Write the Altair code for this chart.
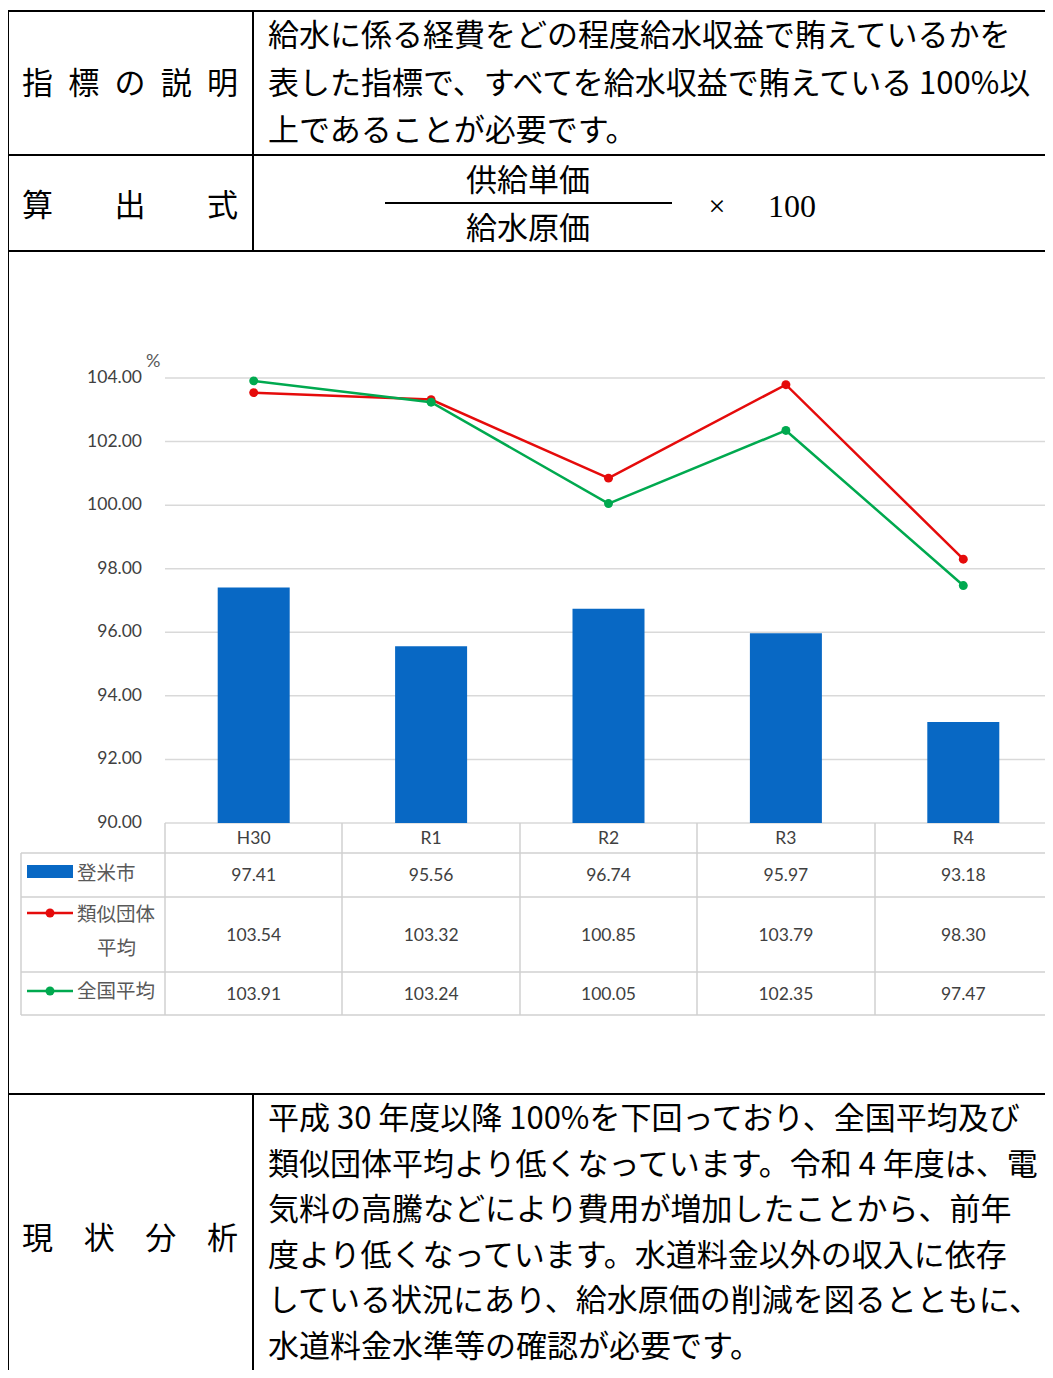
import altair as alt
import pandas as pd

# ---------------- data ----------------
categories = ["H30", "R1", "R2", "R3", "R4"]
tome = [97.41, 95.56, 96.74, 95.97, 93.18]          # 登米市
ruiji = [103.54, 103.32, 100.85, 103.79, 98.30]     # 類似団体平均
zenkoku = [103.91, 103.24, 100.05, 102.35, 97.47]   # 全国平均
y_ticks = [90, 92, 94, 96, 98, 100, 102, 104]

row_label_desc = "指標の説明"
row_label_formula = "算出式"
row_label_analysis = "現状分析"
desc_lines = [
    "給水に係る経費をどの程度給水収益で賄えているかを",
    "表した指標で、すべてを給水収益で賄えている 100%以",
    "上であることが必要です。",
]
formula_num = "供給単価"
formula_den = "給水原価"
formula_times = "×"
formula_factor = "100"
analysis_lines = [
    "平成 30 年度以降 100%を下回っており、全国平均及び",
    "類似団体平均より低くなっています。令和 4 年度は、電",
    "気料の高騰などにより費用が増加したことから、前年",
    "度より低くなっています。水道料金以外の収入に依存",
    "している状況にあり、給水原価の削減を図るとともに、",
    "水道料金水準等の確認が必要です。",
]
legend_tome = "登米市"
legend_ruiji_1 = "類似団体"
legend_ruiji_2 = "平均"
legend_zenkoku = "全国平均"
unit_label = "%"

# ---------------- styles ----------------
JP = "Noto Sans CJK JP"
NUM = "Lato"
SERIF = "Liberation Serif"
BLUE = "#0868c4"
RED = "#e50b0b"
GREEN = "#00a94f"
GRID = "#d9d9d9"
TXT = "#404040"
BODY = 31

OX, OY = 8, 8


def X(v):
    return v - OX


def Y(v):
    return v - OY


one = pd.DataFrame({"d": [0]})


def hline(x1, x2, y, color="black", w=2):
    return alt.Chart(one).mark_rule(color=color, strokeWidth=w).encode(
        x=alt.value(X(x1)), x2=alt.value(X(x2)), y=alt.value(Y(y)))


def vline(x, y1, y2, color="black", w=2):
    return alt.Chart(one).mark_rule(color=color, strokeWidth=w).encode(
        x=alt.value(X(x)), y=alt.value(Y(y1)), y2=alt.value(Y(y2)))


def T(s, x, y, size=BODY, align="left", font=JP, color="black"):
    return alt.Chart(one).mark_text(
        text=s, align=align, baseline="middle", fontSize=size, font=font, color=color
    ).encode(x=alt.value(X(x)), y=alt.value(Y(y)))


def spaced(s, x0, x1, y, size=BODY):
    n = len(s)
    step = (x1 - x0 - size) / (n - 1)
    return [T(c, x0 + size / 2 + i * step, y, size=size, align="center") for i, c in enumerate(s)]


df = pd.DataFrame({"cat": categories, "idx": list(range(len(categories))),
                   "tome": tome, "ruiji": ruiji, "zenkoku": zenkoku})
ticks_df = pd.DataFrame({"v": y_ticks})

xs = alt.Scale(type="band", domain=categories, range=[X(165), X(1052)],
               paddingInner=0, paddingOuter=0)
ys = alt.Scale(domain=[90, 104], range=[Y(823), Y(378)], zero=False, nice=False)
xenc = alt.X("cat:N", scale=xs, axis=None, sort=categories)

layers = []

# gridlines + y tick labels
layers.append(alt.Chart(ticks_df).mark_rule(color=GRID, strokeWidth=1.5).encode(
    y=alt.Y("v:Q", scale=ys, axis=None), x=alt.value(X(165)), x2=alt.value(X(1053))))
layers.append(alt.Chart(ticks_df).mark_text(
    align="right", baseline="middle", fontSize=17.5, font=NUM, color=TXT).encode(
    y=alt.Y("v:Q", scale=ys, axis=None), x=alt.value(X(142)),
    text=alt.Text("v:Q", format=".2f")))
layers.append(T(unit_label, 146, 362, size=18, font=NUM, color="#595959"))

# bars
layers.append(alt.Chart(df).mark_bar(size=72, color=BLUE).encode(
    x=xenc, y=alt.Y("tome:Q", scale=ys, axis=None), y2=alt.datum(90)))

# lines with markers
for field, col in [("ruiji", RED), ("zenkoku", GREEN)]:
    layers.append(alt.Chart(df).mark_line(color=col, strokeWidth=2.5).encode(
        x=xenc, y=alt.Y(f"{field}:Q", scale=ys, axis=None), order="idx:Q"))
    layers.append(alt.Chart(df).mark_circle(size=80, color=col, opacity=1).encode(
        x=xenc, y=alt.Y(f"{field}:Q", scale=ys, axis=None)))

# data table grid
TG = "#d0d0d0"
for xv in [165, 342, 520, 697, 875, 1052]:
    layers.append(vline(xv, 823, 1015, color=TG, w=1.5))
layers.append(vline(21, 853, 1015, color=TG, w=1.5))
for yv in [853, 897, 972, 1015]:
    layers.append(hline(21, 1052, yv, color=TG, w=1.5))

# header categories & values
layers.append(alt.Chart(df).mark_text(baseline="middle", fontSize=17.5, font=NUM, color=TXT).encode(
    x=xenc, y=alt.value(Y(839)), text="cat:N"))
for field, yv in [("tome", 876), ("ruiji", 936), ("zenkoku", 995)]:
    layers.append(alt.Chart(df).mark_text(baseline="middle", fontSize=17.5, font=NUM, color=TXT).encode(
        x=xenc, y=alt.value(Y(yv)), text=alt.Text(f"{field}:Q", format=".2f")))

# table legend keys
layers.append(alt.Chart(one).mark_rect(color=BLUE).encode(
    x=alt.value(X(27)), x2=alt.value(X(73)), y=alt.value(Y(865)), y2=alt.value(Y(878))))
for col, yv in [(RED, 913), (GREEN, 991)]:
    layers.append(hline(27, 73, yv, color=col, w=2.5))
    layers.append(alt.Chart(one).mark_circle(size=80, color=col, opacity=1).encode(
        x=alt.value(X(50)), y=alt.value(Y(yv))))
layers.append(T(legend_tome, 77, 874, size=19.5, color="#595959"))
layers.append(T(legend_ruiji_1, 77, 915, size=19.5, color="#595959"))
layers.append(T(legend_ruiji_2, 97, 949, size=19.5, color="#595959"))
layers.append(T(legend_zenkoku, 77, 992, size=19.5, color="#595959"))

# document frame
layers.append(hline(7, 1053, 11))
layers.append(vline(8, 10, 1378))
for yv in [155, 251, 1094]:
    layers.append(hline(7, 1053, yv))
layers.append(vline(253, 10, 251))
layers.append(vline(253, 1094, 1378))

# document texts
layers += spaced(row_label_desc, 22, 238, 85)
layers += spaced(row_label_formula, 22, 238, 207)
layers += spaced(row_label_analysis, 22, 238, 1240)
for i, s in enumerate(desc_lines):
    layers.append(T(s, 268, 37 + i * 47.5))
layers.append(T(formula_num, 528, 182, align="center"))
layers.append(hline(385, 672, 203, w=2))
layers.append(T(formula_den, 528, 230, align="center"))
layers.append(T(formula_times, 717, 207, size=30, align="center", font=SERIF))
layers.append(T(formula_factor, 768, 207, size=32, font=SERIF))
for i, s in enumerate(analysis_lines):
    layers.append(T(s, 268, 1120 + i * 45.6))

chart = alt.layer(*layers).properties(
    width=1037, height=1362,
    autosize=alt.AutoSizeParams(type="none"),
    padding=0,
).configure_view(stroke=None)

chart.save("out.html", embed_options={"renderer": "svg", "actions": False})
